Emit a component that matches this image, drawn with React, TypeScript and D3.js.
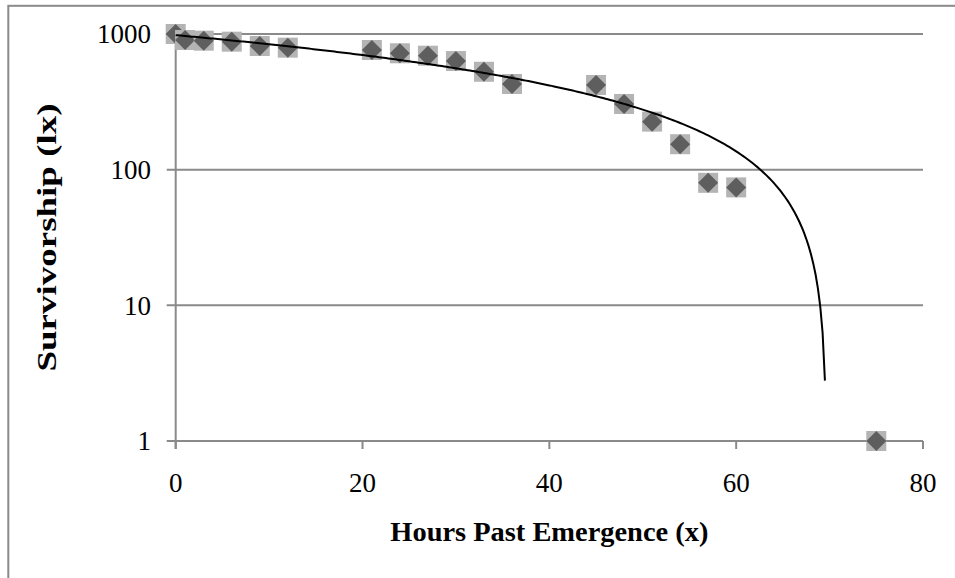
import React from "react";
import * as d3 from "d3";

const hours = [0, 1, 3, 6, 9, 12, 21, 24, 27, 30, 33, 36, 45, 48, 51, 54, 57, 60, 75];
const survivorship = [1000, 903, 893, 878, 816, 793, 762, 721, 692, 632, 527, 428, 421, 305, 226, 154, 80, 74, 1];
const xTicks = [0, 20, 40, 60, 80];
const yTicks = [1, 10, 100, 1000];
const xTitle = "Hours Past Emergence (x)";
const yTitle = "Survivorship (lx)";

const W = 955;
const H = 578;
const left = 175.7;
const right = 923;
const top = 34;
const bottom = 441;
const grey = "#8a8a8a";
const font = "'Liberation Serif', 'Times New Roman', serif";

export default function App() {
  const x = d3.scaleLinear().domain([0, 80]).range([left, right]);
  const y = d3.scaleLog().domain([1, 1000]).range([bottom, top]);

  // linear trendline (least squares) drawn on the log axis
  const n = hours.length;
  const mx = d3.mean(hours) as number;
  const my = d3.mean(survivorship) as number;
  let sxy = 0;
  let sxx = 0;
  for (let i = 0; i < n; i++) {
    sxy += (hours[i] - mx) * (survivorship[i] - my);
    sxx += (hours[i] - mx) ** 2;
  }
  const slope = sxy / sxx;
  const intercept = my - slope * mx;
  const trend: [number, number][] = [];
  for (let t = 0; t <= 75; t += 0.25) {
    const v = intercept + slope * t;
    if (v < 2.7) break;
    trend.push([t, v]);
  }
  const line = d3
    .line<[number, number]>()
    .x((d) => x(d[0]))
    .y((d) => y(d[1]));

  const m = 10;
  const diamond = `M0,${-m} L${m},0 L0,${m} L${-m},0 Z`;

  return (
    <svg
      width={W}
      height={H}
      style={{ position: "absolute", left: 0, top: 0, background: "#fff" }}
    >
      <rect x={8.3} y={5.8} width={1200} height={1200} fill="#fff" stroke={grey} strokeWidth={2} />
      {yTicks.map((t) => (
        <g key={t}>
          <line x1={left - 9} x2={right} y1={y(t)} y2={y(t)} stroke={grey} strokeWidth={2} />
          <text
            x={151}
            y={y(t)}
            dy="0.35em"
            textAnchor="end"
            fontFamily={font}
            fontSize={27}
            fill="#000"
          >
            {t}
          </text>
        </g>
      ))}
      <line x1={left} x2={left} y1={top} y2={bottom + 8} stroke={grey} strokeWidth={2} />
      {xTicks.map((t) => (
        <g key={t}>
          <line x1={x(t)} x2={x(t)} y1={bottom} y2={bottom + 8} stroke={grey} strokeWidth={2} />
          <text
            x={x(t)}
            y={492}
            textAnchor="middle"
            fontFamily={font}
            fontSize={27}
            fill="#000"
          >
            {t}
          </text>
        </g>
      ))}
      {hours.map((h, i) => (
        <g key={i} transform={`translate(${x(h)},${y(survivorship[i])})`}>
          <rect x={-10} y={-10} width={20} height={20} fill="#b4b4b4" />
          <path d={diamond} fill="#5e5e5e" />
        </g>
      ))}
      <path d={line(trend) || ""} fill="none" stroke="#000" strokeWidth={2} />
      <text
        x={(left + right) / 2}
        y={541}
        textAnchor="middle"
        fontFamily={font}
        fontWeight="bold"
        fontSize={27}
        textLength={318}
        lengthAdjust="spacingAndGlyphs"
        fill="#000"
      >
        {xTitle}
      </text>
      <text
        transform={`translate(56,${(top + bottom) / 2}) rotate(-90)`}
        textAnchor="middle"
        fontFamily={font}
        fontWeight="bold"
        fontSize={27}
        textLength={268}
        lengthAdjust="spacingAndGlyphs"
        fill="#000"
      >
        {yTitle}
      </text>
    </svg>
  );
}
